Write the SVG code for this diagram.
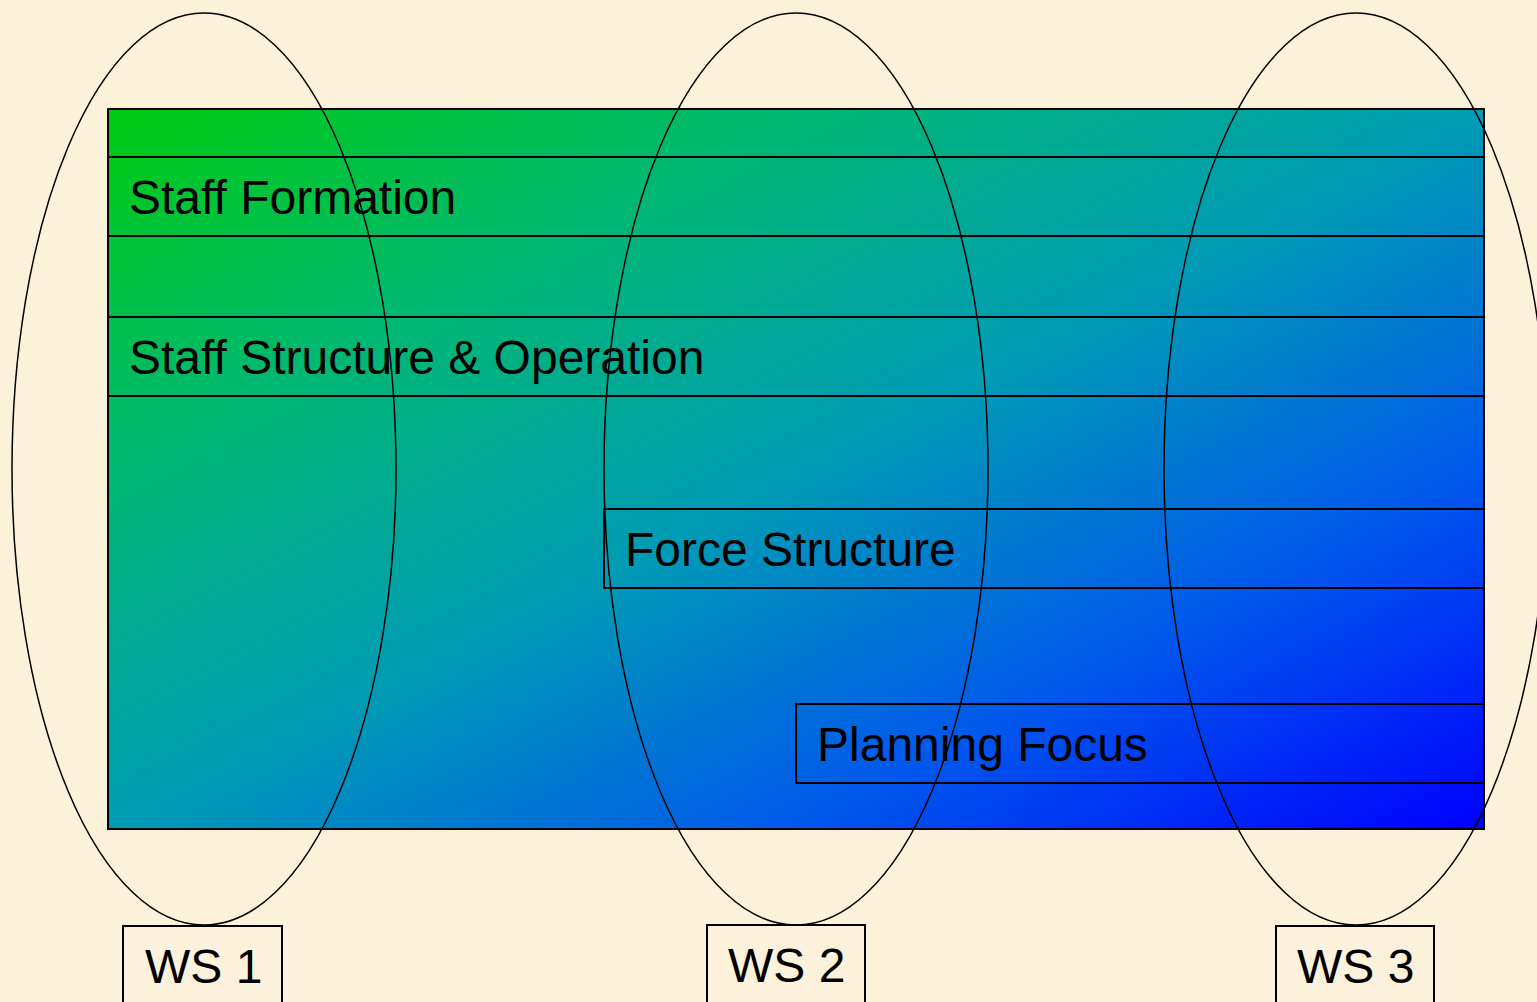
<svg xmlns="http://www.w3.org/2000/svg" width="1537" height="1002" viewBox="0 0 1537 1002">
<defs>
<linearGradient id="grad" x1="0" y1="0" x2="1" y2="1">
<stop offset="0" stop-color="#00cc10"/>
<stop offset="0.25" stop-color="#00b872"/>
<stop offset="0.5" stop-color="#009cb4"/>
<stop offset="0.75" stop-color="#0058ec"/>
<stop offset="1" stop-color="#0000ff"/>
</linearGradient>
<style>
.band{fill:none;stroke:#000;stroke-width:2}
.ell{fill:none;stroke:#000;stroke-width:1.5}
.lbl{font-family:"Liberation Sans",Arial,sans-serif;font-size:48px;fill:#000}
.ws{fill:#fcf1da;stroke:#000;stroke-width:2}
</style>
</defs>
<rect x="0" y="0" width="1537" height="1002" fill="#fcf1d9"/>
<g id="main">
<rect x="108" y="109" width="1376" height="720" fill="url(#grad)" stroke="#000" stroke-width="2"/>
</g>
<g id="staff-formation">
<rect class="band" x="108" y="157" width="1376" height="79"/>
<text class="lbl" x="129" y="214">Staff Formation</text>
</g>
<g id="staff-structure">
<rect class="band" x="108" y="317" width="1376" height="79"/>
<text class="lbl" x="129" y="374">Staff Structure &amp; Operation</text>
</g>
<g id="force-structure">
<rect class="band" x="604" y="509" width="880" height="79"/>
<text class="lbl" x="625" y="566">Force Structure</text>
</g>
<g id="planning-focus">
<rect class="band" x="796" y="704" width="688" height="79"/>
<text class="lbl" x="817" y="761">Planning Focus</text>
</g>
<g id="connectors">
<ellipse class="ell" cx="204" cy="469" rx="192" ry="456"/>
<ellipse class="ell" cx="796" cy="469" rx="192" ry="456"/>
<ellipse class="ell" cx="1356" cy="469" rx="192" ry="456"/>
</g>
<g id="ws1">
<rect class="ws" x="123" y="926" width="159" height="80"/>
<text class="lbl" x="145" y="983">WS 1</text>
</g>
<g id="ws2">
<rect class="ws" x="707" y="925" width="158" height="80"/>
<text class="lbl" x="728" y="982">WS 2</text>
</g>
<g id="ws3">
<rect class="ws" x="1276" y="926" width="158" height="80"/>
<text class="lbl" x="1297" y="983">WS 3</text>
</g>
</svg>
